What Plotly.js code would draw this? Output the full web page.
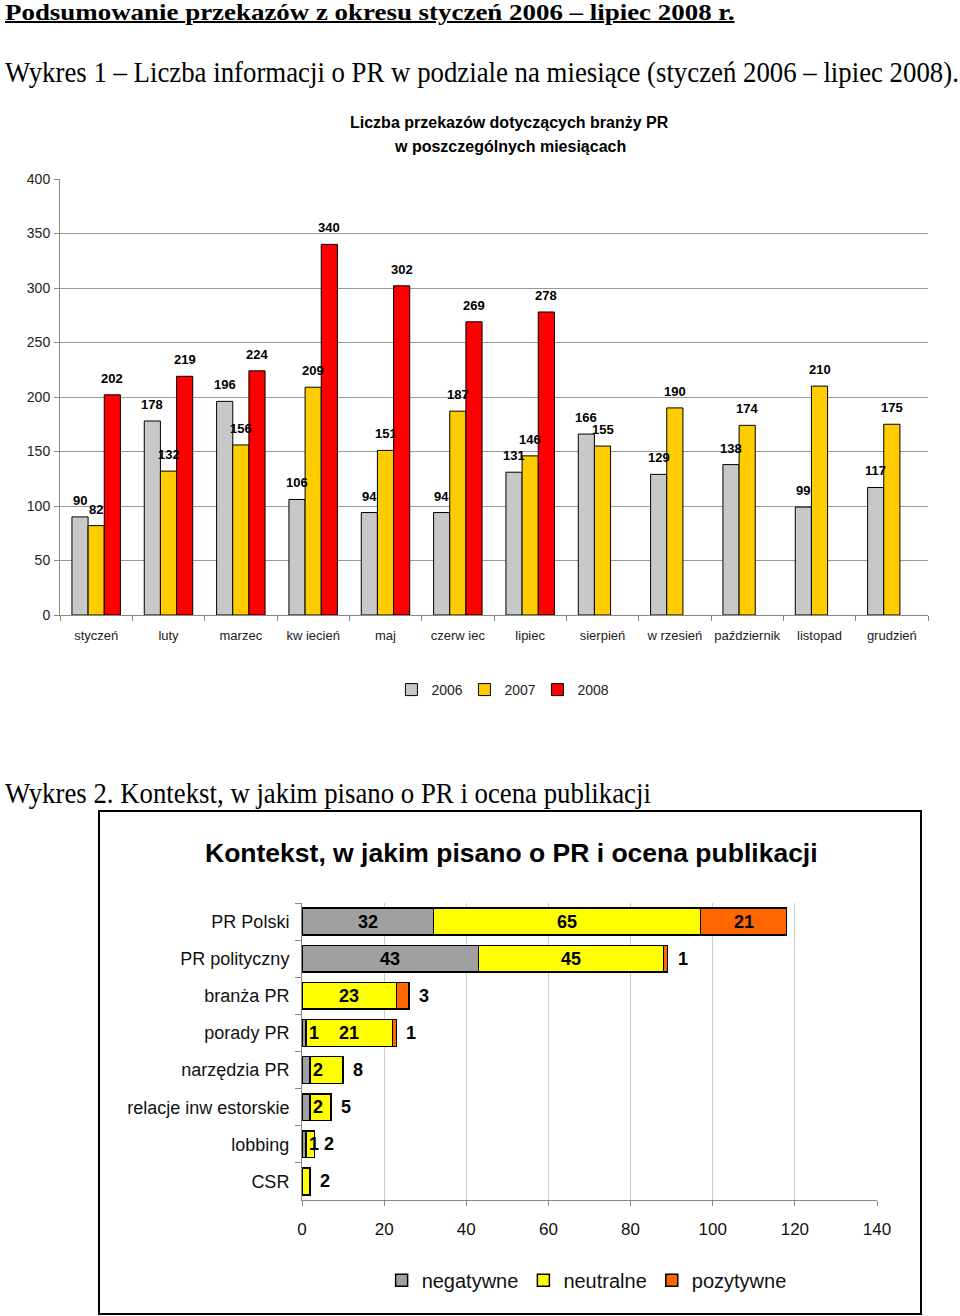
<!DOCTYPE html>
<html>
<head>
<meta charset="utf-8">
<script src="https://cdn.plot.ly/plotly-3.0.1.min.js"></script>
<style>
  html, body { margin:0; padding:0; background:#fff; }
  body { width:960px; height:1316px; position:relative; overflow:hidden; }
  .hdr { position:absolute; left:5px; font-family:"Liberation Serif","Times New Roman",serif; color:#000; white-space:nowrap; line-height:1; transform-origin:0 0; }
  #h1 { top:1px; font-size:23px; font-weight:bold; text-decoration:underline; text-decoration-thickness:2px; transform:scaleX(1.17); }
  #h2 { top:59px; font-size:26.8px; transform:scaleY(1.06); }
  #h3 { top:780px; font-size:26.8px; transform:scaleY(1.06); }
  #c1 { position:absolute; left:0; top:100px; width:960px; height:620px; }
  #c2 { position:absolute; left:99px; top:811px; width:820px; height:501px; }
  #frame { position:absolute; left:98px; top:810px; width:820px; height:501px; border:2px solid #000; pointer-events:none; }
</style>
</head>
<body>
<div class="hdr" id="h1">Podsumowanie przekazów z okresu styczeń 2006 – lipiec 2008 r.</div>
<div class="hdr" id="h2">Wykres 1 – Liczba informacji o PR w podziale na miesiące (styczeń 2006 – lipiec 2008).</div>
<div class="hdr" id="h3">Wykres 2. Kontekst, w jakim pisano o PR i ocena publikacji</div>
<div id="c1"></div>
<div id="c2"></div>
<div id="frame"></div>
<script>
// ---- Chart 1 data ----
const months = ['styczeń','luty','marzec','kw iecień','maj','czerw iec','lipiec','sierpień','w rzesień','październik','listopad','grudzień'];
const y2006 = [90,178,196,106,94,94,131,166,129,138,99,117];
const y2007 = [82,132,156,209,151,187,146,155,190,174,210,175];
const y2008 = [202,219,224,340,302,269,278,null,null,null,null,null];
const seriesNames1 = ['2006','2007','2008'];
const chart1Title = ['Liczba przekazów dotyczących branży PR','w poszczególnych miesiącach'];

// ---- Chart 2 data ----
const topics = ['PR Polski','PR polityczny','branża PR','porady PR','narzędzia PR','relacje inw estorskie','lobbing','CSR'];
const negatywne = [32,43,0,1,2,2,1,0];
const neutralne = [65,45,23,21,8,5,2,2];
const pozytywne = [21,1,3,1,0,0,0,0];
const seriesNames2 = ['negatywne','neutralne','pozytywne'];
const chart2Title = 'Kontekst, w jakim pisano o PR i ocena publikacji';

const FONT = 'Arial, "Liberation Sans", sans-serif';

// ---- Chart 1 ----
const colors1 = ['#C8C8C8','#FFCC00','#FF0000'];
const series1 = [y2006, y2007, y2008];
const data1 = series1.map((ys, k) => ({
  type:'bar', x: months, y: ys, name: seriesNames1[k],
  marker:{color: colors1[k], line:{color:'#000', width:1}},
  hoverinfo:'skip'
}));
const plotW1 = 960 - 60 - 32;
const bargap1 = 0.33;
const barW1 = plotW1 / months.length * (1 - bargap1) / series1.length;
const ann1 = [
  {text:'<b>'+chart1Title[0]+'</b>', xref:'paper', yref:'paper', x:0.518, y:1.1307,
   xanchor:'center', yanchor:'middle', showarrow:false, font:{size:16, color:'#000'}},
  {text:'<b>'+chart1Title[1]+'</b>', xref:'paper', yref:'paper', x:0.518, y:1.0734,
   xanchor:'center', yanchor:'middle', showarrow:false, font:{size:16, color:'#000'}}
];
series1.forEach((ys, k) => {
  ys.forEach((v, i) => {
    if (v == null) return;
    ann1.push({text:'<b>'+v+'</b>', xref:'x', yref:'y', x: months[i], y: v,
      xshift:(k-1)*barW1, yshift:7, xanchor:'center', yanchor:'bottom', showarrow:false,
      font:{family:FONT, size:13, color:'#000'}});
  });
});
const layout1 = {
  width:960, height:620,
  margin:{l:60, r:32, t:79, b:105},
  paper_bgcolor:'#fff', plot_bgcolor:'#fff',
  font:{family:FONT, color:'#000'},
  barmode:'group', bargap:bargap1, bargroupgap:0,
  xaxis:{type:'category', showline:true, linecolor:'#888', linewidth:1, tickangle:0,
         ticks:'outside', tickson:'boundaries', ticklen:5, tickcolor:'#888',
         tickfont:{size:13, color:'#222'}, showgrid:false, ticklabelstandoff:8},
  yaxis:{range:[0,400], dtick:50, showline:true, linecolor:'#888', linewidth:1,
         ticks:'outside', ticklen:5, tickcolor:'#888', gridcolor:'#999', gridwidth:1,
         zeroline:false, tickfont:{size:14, color:'#222'}, ticklabelstandoff:1},
  showlegend:true,
  legend:{orientation:'h', x:0.508, xanchor:'center', y:-0.172, yanchor:'middle',
          font:{size:14, color:'#222'}, itemwidth:30, traceorder:'normal',
          entrywidth:28, entrywidthmode:'pixels'},
  annotations: ann1
};
Plotly.newPlot('c1', data1, layout1, {staticPlot:true});

// ---- Chart 2 ----
const colors2 = ['#A0A0A0','#FFFF00','#FF6600'];
const segs = [negatywne, neutralne, pozytywne];
const data2 = segs.map((xs, k) => ({
  type:'bar', orientation:'h', y: topics, x: xs, name: seriesNames2[k],
  marker:{color: colors2[k], line:{color:'#000', width:1.5}},
  hoverinfo:'skip'
}));
const ann2 = [{text:'<b>'+chart2Title+'</b>', xref:'paper', yref:'paper', x:0.3635, y:1.1667,
  xanchor:'center', yanchor:'middle', showarrow:false, font:{size:26.5, color:'#000'}}];
topics.forEach((t, i) => {
  const vals = segs.map(s => s[i]);
  let lastNZ = -1; vals.forEach((v, k) => { if (v > 0) lastNZ = k; });
  const total = vals.reduce((a, b) => a + b, 0);
  let start = 0;
  vals.forEach((v, k) => {
    if (v > 0) {
      let a = {text:'<b>'+v+'</b>', xref:'x', yref:'y', y:t, showarrow:false,
               yanchor:'middle', font:{size:18, color:'#000'}};
      if (v >= 10) { a.x = start + v/2; a.xanchor = 'center'; }
      else if (k === lastNZ) { a.x = total; a.xanchor = 'left'; a.xshift = 8; }
      else { a.x = start + v; a.xanchor = 'left'; a.xshift = 1; }
      ann2.push(a);
    }
    start += v;
  });
});
const layout2 = {
  width:820, height:501,
  margin:{l:203, r:42, t:92, b:109},
  paper_bgcolor:'#fff', plot_bgcolor:'#fff',
  font:{family:FONT, color:'#000'},
  barmode:'stack', bargap:0.28,
  xaxis:{range:[0,140], dtick:20, showline:true, linecolor:'#888', linewidth:1,
         ticks:'outside', ticklen:5, tickcolor:'#888', gridcolor:'#ccc', zeroline:false,
         tickfont:{size:17, color:'#111'}, ticklabelstandoff:9},
  yaxis:{type:'category', autorange:'reversed', showline:true, linecolor:'#888', linewidth:1,
         ticks:'outside', tickson:'boundaries', ticklen:6, tickcolor:'#888', showgrid:false,
         tickfont:{size:18, color:'#111'}, ticklabelstandoff:8},
  showlegend:true,
  legend:{orientation:'h', x:0.495, xanchor:'center', y:-0.27, yanchor:'middle',
          font:{size:20, color:'#111'}, itemwidth:30, traceorder:'normal'},
  annotations: ann2
};
Plotly.newPlot('c2', data2, layout2, {staticPlot:true});
</script>
</body>
</html>
